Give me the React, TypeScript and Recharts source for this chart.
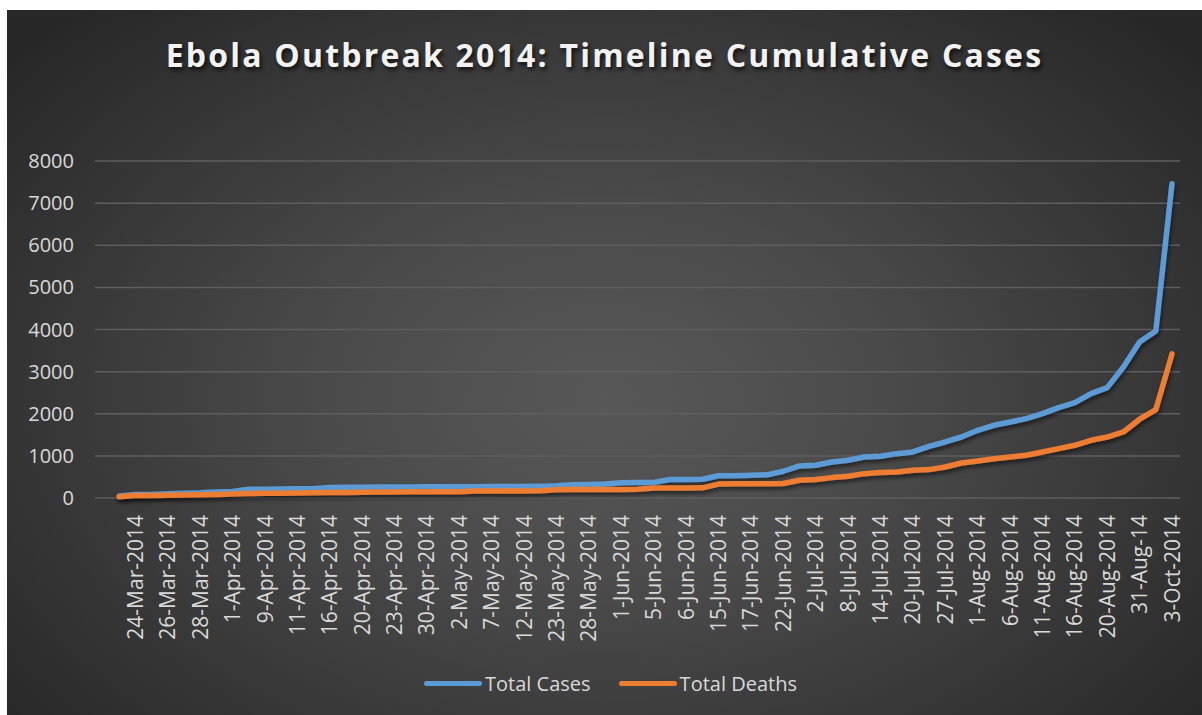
import { LineChart, Line, XAxis, YAxis, CartesianGrid } from 'recharts';

// category 0 is an empty slot in the source sheet (no label, no values)
const dates = [
  '', '22-Mar-2014', '24-Mar-2014', '25-Mar-2014', '26-Mar-2014', '27-Mar-2014', '28-Mar-2014',
  '31-Mar-2014', '1-Apr-2014', '7-Apr-2014', '9-Apr-2014', '10-Apr-2014', '11-Apr-2014',
  '14-Apr-2014', '16-Apr-2014', '17-Apr-2014', '20-Apr-2014', '21-Apr-2014', '23-Apr-2014',
  '26-Apr-2014', '30-Apr-2014', '1-May-2014', '2-May-2014', '5-May-2014', '7-May-2014',
  '10-May-2014', '12-May-2014', '14-May-2014', '23-May-2014', '27-May-2014', '28-May-2014',
  '29-May-2014', '1-Jun-2014', '3-Jun-2014', '5-Jun-2014', '5-Jun-2014', '6-Jun-2014',
  '10-Jun-2014', '15-Jun-2014', '16-Jun-2014', '17-Jun-2014', '18-Jun-2014', '22-Jun-2014',
  '30-Jun-2014', '2-Jul-2014', '6-Jul-2014', '8-Jul-2014', '12-Jul-2014', '14-Jul-2014',
  '17-Jul-2014', '20-Jul-2014', '23-Jul-2014', '27-Jul-2014', '30-Jul-2014', '1-Aug-2014',
  '4-Aug-2014', '6-Aug-2014', '9-Aug-2014', '11-Aug-2014', '13-Aug-2014', '16-Aug-2014',
  '18-Aug-2014', '20-Aug-2014', '26-Aug-2014', '31-Aug-14', '8-Sep-2014', '3-Oct-2014',
];

const totalCases = [
  null, 49, 86, 86, 103, 112, 122, 143, 157, 208, 210, 215, 218, 220,
  250, 255, 258, 260, 262, 264, 265, 266, 268, 270, 271, 272, 274, 276,
  290, 315, 320, 330, 360, 365, 368, 438, 440, 446, 528, 530, 538, 550,
  635, 760, 779, 855, 895, 974, 990, 1053, 1093, 1227, 1330, 1448, 1607,
  1726, 1805, 1884, 2003, 2146, 2264, 2478, 2620, 3110, 3704, 3965, 7460,
];

const totalDeaths = [
  null, 29, 59, 60, 66, 70, 78, 86, 95, 105, 110, 115, 120, 125,
  128, 133, 138, 142, 145, 146, 147, 148, 150, 165, 166, 167, 168, 170,
  198, 199, 200, 201, 202, 205, 238, 239, 240, 241, 330, 337, 338, 340,
  345, 420, 437, 484, 515, 578, 603, 617, 657, 674, 736, 831, 879,
  934, 973, 1014, 1092, 1172, 1251, 1370, 1448, 1567, 1870, 2098, 3420,
];

const yTicks = [0, 1000, 2000, 3000, 4000, 5000, 6000, 7000, 8000];

const data = dates.map((d, i) => ({ date: d, cases: totalCases[i], deaths: totalDeaths[i] }));

const BLUE = '#5B9BD5';
const ORANGE = '#ED7D31';
const TEXT = '#d9d9d9';
const FONT = '"Open Sans", sans-serif';

const DateTick = ({ x, y, payload }: any) => (
  <text x={x} y={y} transform={`rotate(-90 ${x} ${y})`} textAnchor="end"
    dx={-9} dy="0.36em" fill={TEXT} fontSize={21} fontFamily={FONT}>
    {payload.value}
  </text>
);

const LegendItem = ({ color, label }: { color: string; label: string }) => (
  <div style={{ display: 'flex', alignItems: 'center', margin: '0 14px' }}>
    <div style={{ width: 58, height: 5, borderRadius: 3, background: color, marginRight: 3 }} />
    <span>{label}</span>
  </div>
);

export default function App() {
  return (
    <div style={{
      position: 'absolute', left: 7, top: 10, width: 1195, height: 705,
      background: 'radial-gradient(ellipse 65% 75% at 50% 55%, #585858 0%, #4b4b4b 35%, #353535 75%, #272727 100%)',
      fontFamily: FONT, overflow: 'hidden',
    }}>
      <div style={{
        position: 'absolute', left: 0, top: 23, width: 1195, textAlign: 'center',
        color: '#f2f2f2', fontWeight: 700, fontSize: 32, letterSpacing: 2.2,
        textShadow: '2px 3px 4px rgba(0,0,0,0.7)',
      }}>
        Ebola Outbreak 2014: Timeline Cumulative Cases
      </div>
      <LineChart width={1195} height={705} data={data}
        margin={{ top: 151, right: 22, bottom: 87, left: 0 }}>
        <defs>
          <filter id="lineShadow" x="-5%" y="-5%" width="110%" height="120%">
            <feDropShadow dx="1" dy="3" stdDeviation="2" floodColor="#000" floodOpacity="0.55" />
          </filter>
        </defs>
        <CartesianGrid vertical={false} stroke="#5e5e5e" strokeWidth={1.5} />
        <XAxis dataKey="date" interval={1} height={130} padding={{ left: 8, right: 8 }}
          axisLine={false} tickLine={false} tick={<DateTick />} />
        <YAxis domain={[0, 8000]} ticks={yTicks} width={88} axisLine={false} tickLine={false}
          tickMargin={15} tick={{ fill: TEXT, fontSize: 20, fontFamily: FONT }} />
        <Line dataKey="cases" stroke={BLUE} strokeWidth={5.5} dot={false} type="linear"
          strokeLinecap="round" strokeLinejoin="round" filter="url(#lineShadow)"
          isAnimationActive={false} />
        <Line dataKey="deaths" stroke={ORANGE} strokeWidth={5.5} dot={false} type="linear"
          strokeLinecap="round" strokeLinejoin="round" filter="url(#lineShadow)"
          isAnimationActive={false} />
      </LineChart>
      <div style={{
        position: 'absolute', left: 6, top: 660, width: 1195, display: 'flex',
        justifyContent: 'center', color: TEXT, fontSize: 20,
      }}>
        <LegendItem color={BLUE} label="Total Cases" />
        <LegendItem color={ORANGE} label="Total Deaths" />
      </div>
    </div>
  );
}
